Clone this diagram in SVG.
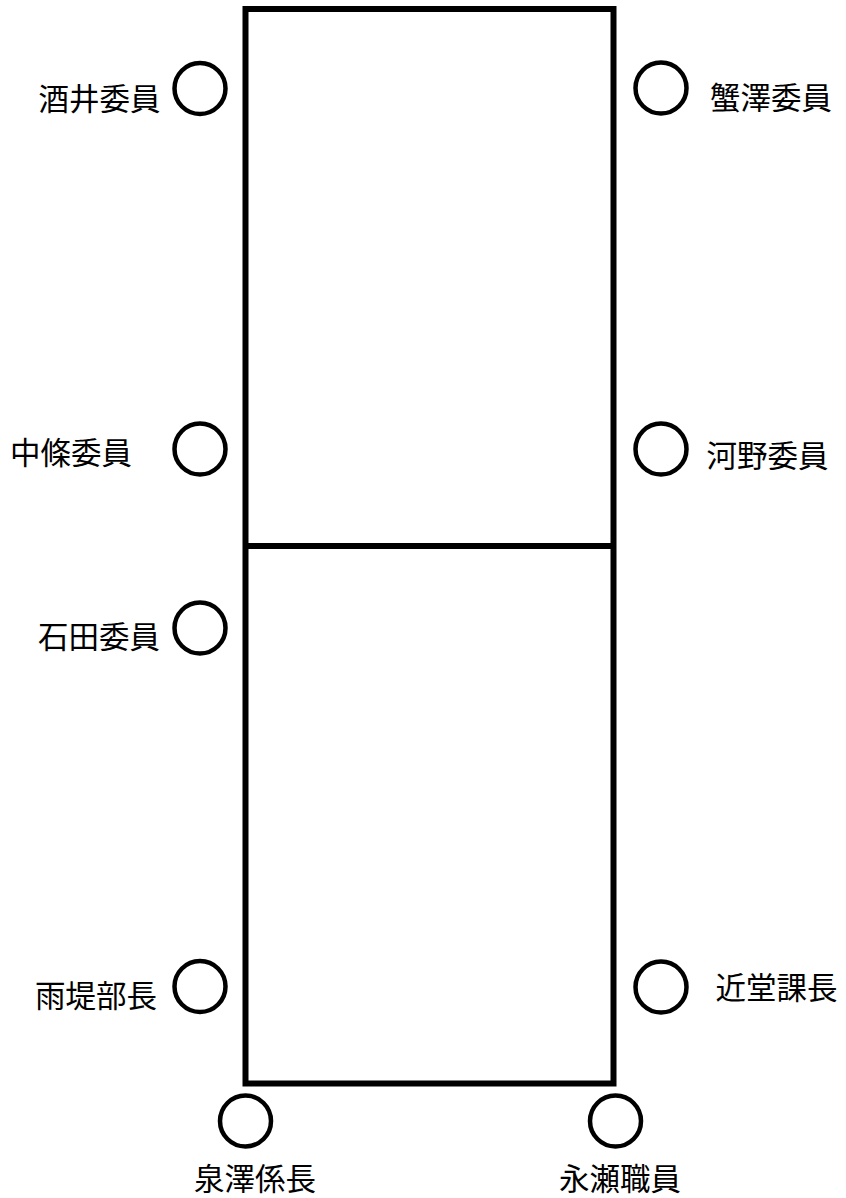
<svg xmlns="http://www.w3.org/2000/svg" width="846" height="1198" viewBox="0 0 846 1198">
<style>
.frame{fill:none;stroke:#000;stroke-width:6}
.seat{fill:#fff;stroke:#000;stroke-width:4.5}
.lbl{font-family:"Noto Sans CJK JP","Noto Sans CJK SC",sans-serif;font-size:30.5px;fill:#000}
</style>
<rect width="846" height="1198" fill="#fff"/>
<g id="table">
<rect class="frame" x="245.5" y="9" width="368" height="1074.5"/>
<line class="frame" x1="245.5" y1="546" x2="613.5" y2="546"/>
</g>
<g id="connectors"></g>
<g id="sakai"><circle class="seat" cx="200" cy="88.5" r="25.5"/><text class="lbl" x="38.5" y="110">酒井委員</text></g>
<g id="kanisawa"><circle class="seat" cx="661" cy="88" r="25.5"/><text class="lbl" x="710" y="109">蟹澤委員</text></g>
<g id="nakajo"><circle class="seat" cx="200" cy="449" r="25.5"/><text class="lbl" x="10" y="464">中條委員</text></g>
<g id="kono"><circle class="seat" cx="661" cy="449" r="25.5"/><text class="lbl" x="706.5" y="467">河野委員</text></g>
<g id="ishida"><circle class="seat" cx="200" cy="628" r="25.5"/><text class="lbl" x="38" y="648">石田委員</text></g>
<g id="amazutsumi"><circle class="seat" cx="200" cy="986.5" r="25.5"/><text class="lbl" x="35" y="1007">雨堤部長</text></g>
<g id="kondo"><circle class="seat" cx="661" cy="987" r="25.5"/><text class="lbl" x="715.5" y="999">近堂課長</text></g>
<g id="izumisawa"><circle class="seat" cx="245.5" cy="1121" r="25.5"/><text class="lbl" x="194" y="1190">泉澤係長</text></g>
<g id="nagase"><circle class="seat" cx="615.5" cy="1121" r="25.5"/><text class="lbl" x="559" y="1190">永瀬職員</text></g>
</svg>
